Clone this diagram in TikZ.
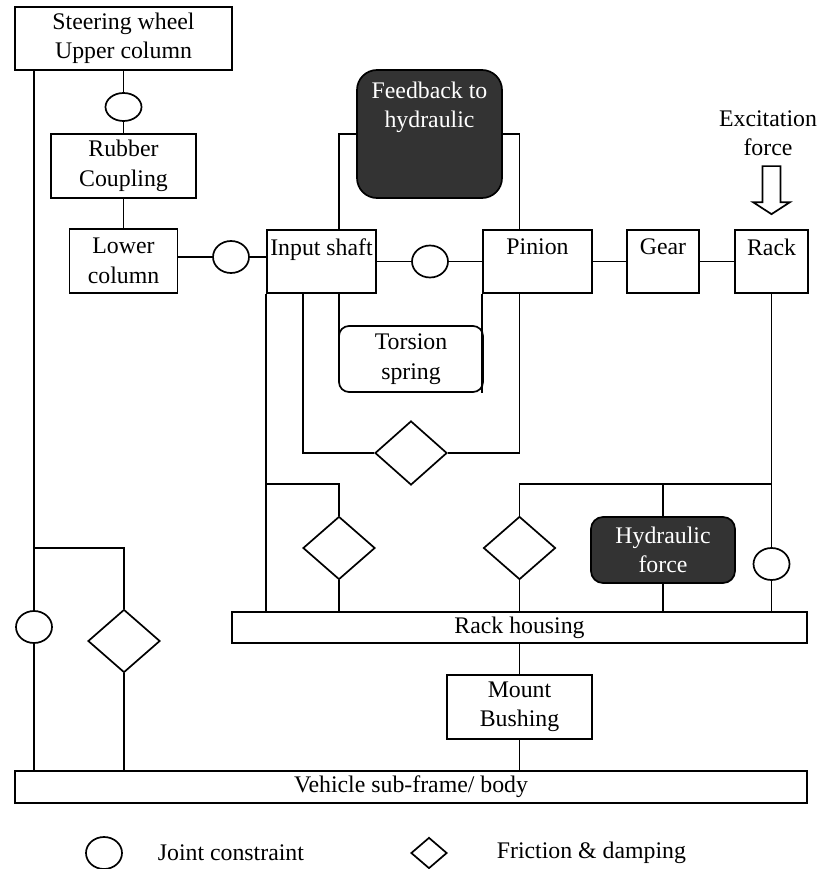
\documentclass[tikz,border=0pt]{standalone}
\usepackage{fontspec}
\setmainfont{Liberation Serif}
\usetikzlibrary{shapes.geometric}
\definecolor{darkfill}{HTML}{333333}

\begin{document}
\begin{tikzpicture}
[every node/.style={inner sep=0pt, align=center, font=\fontsize{23.8}{29.5}\selectfont},
 line width=1.7pt,
 block/.style={rectangle, draw=black},
 dark/.style={rectangle, rounded corners=12pt, draw=black, fill=darkfill, text=white},
 joint/.style={ellipse, draw=black, minimum width=36pt, minimum height=32pt},
 fric/.style={diamond, draw=black, minimum width=72pt, minimum height=63pt}]
\useasboundingbox (0pt, 0pt) rectangle (819pt, -869pt);
% steering column
\node (wheel) [block, minimum width=217pt, minimum height=63pt] at (123.5pt, -38.5pt) {Steering wheel\\Upper column};
\node (j1) [joint, minimum height=28pt] at (123.5pt, -107pt) {};
\node (rubber) [block, minimum width=145pt, minimum height=64pt] at (123.5pt, -166pt) {Rubber\\Coupling};
\node (lower) [block, minimum width=108pt, minimum height=64pt] at (123.5pt, -261pt) {Lower\\column};
\node (j2) [joint] at (231pt, -257pt) {};
% gear train
\node (input) [block, minimum width=109pt, minimum height=63pt] at (321.5pt, -261.5pt) {Input shaft\\~};
\node (j3) [joint] at (430pt, -261.5pt) {};
\node (pinion) [block, minimum width=109pt, minimum height=63pt] at (537.5pt, -261.5pt) {Pinion\\~};
\node (gear) [block, minimum width=72pt, minimum height=63pt] at (663pt, -261.5pt) {Gear\\~};
\node (rack) [block, minimum width=73pt, minimum height=63pt] at (771.5pt, -261.5pt) {Rack\\~};
\node (feedback) [dark, rounded corners=20pt, minimum width=145pt, minimum height=128pt] at (429.5pt, -134pt) {Feedback to\\hydraulic\\~\\~};
\node (excite) at (768pt, -133pt) {Excitation\\force};
\node (torsion) [block, rounded corners=10pt, minimum width=144pt, minimum height=66pt] at (411pt, -359pt) {Torsion\\spring};
\node (d1) [fric, minimum height=64pt] at (411pt, -453pt) {};
% housing side
\node (d2) [fric] at (339pt, -548pt) {};
\node (d3) [fric] at (519.5pt, -548pt) {};
\node (hyd) [dark, minimum width=144pt, minimum height=66pt] at (663pt, -550pt) {Hydraulic\\force};
\node (j4) [joint] at (771.5pt, -564pt) {};
\node (housing) [block, minimum width=575pt, minimum height=31pt] at (519.5pt, -627.5pt) {Rack housing};
\node (mount) [block, minimum width=144.5pt, minimum height=64pt] at (519.5pt, -707pt) {Mount\\Bushing};
\node (frame) [block, minimum width=792pt, minimum height=32pt] at (411pt, -787pt) {Vehicle sub-frame/ body};
\node (j5) [joint] at (34pt, -627pt) {};
\node (d4) [fric] at (124pt, -641pt) {};
% legend
\node (jkey) [joint] at (104pt, -853pt) {};
\node (jtext) [anchor=west] at (157pt, -853pt) {Joint constraint};
\node (fkey) [fric, minimum width=36pt, minimum height=31pt] at (429pt, -853pt) {};
\node (ftext) [anchor=west] at (496pt, -853pt) {Friction \& damping};
\coordinate (lbus) at (267pt, -484pt);

\draw (wheel) -- (j1) -- (rubber) -- (lower);
\draw (lower.east |- j2) -- (j2) -- (input.west |- j2);
\draw (input) -- (j3) -- (pinion) -- (gear) -- (rack);
\draw (feedback.west) -| (d2 |- input.north);
\draw (feedback.east) -| (d3 |- pinion.north);
\draw (input.south -| d2) -- (d2 |- torsion.west);
\draw (pinion.south west) -- (pinion.south west |- torsion.south);
\draw ([xshift=-18.5pt]input.south) |- (d1.west);
\draw (d1.east) -| (d3 |- pinion.south);
\draw (input.south west) -- (input.south west |- housing.north);
\draw (lbus) -| (d2.north);
\draw (d3.north) |- (j4 |- lbus);
\draw (rack.south) -- (j4);
\draw (hyd.north) -- (hyd |- lbus);
\draw (d2.south) -- (d2 |- housing.north);
\draw (d3.south) -- (d3 |- housing.north);
\draw (hyd.south) -- (hyd |- housing.north);
\draw (j4) -- (j4 |- housing.north);
\draw (housing) -- (mount) -- (mount |- frame.north);
\draw (wheel.south -| j5) -- (j5) -- (j5 |- frame.north);
\draw (j5 |- d2) -| (d4.north);
\draw (d4) -- (d4 |- frame.north);
% excitation arrow
\draw ([yshift=15pt]rack.north) -- ++(18.5pt, 12pt) -- ++(-9.5pt, 0pt) -- ++(0pt, 36pt)
  -- ++(-18pt, 0pt) -- ++(0pt, -36pt) -- ++(-9.5pt, 0pt) -- cycle;
\end{tikzpicture}
\end{document}
